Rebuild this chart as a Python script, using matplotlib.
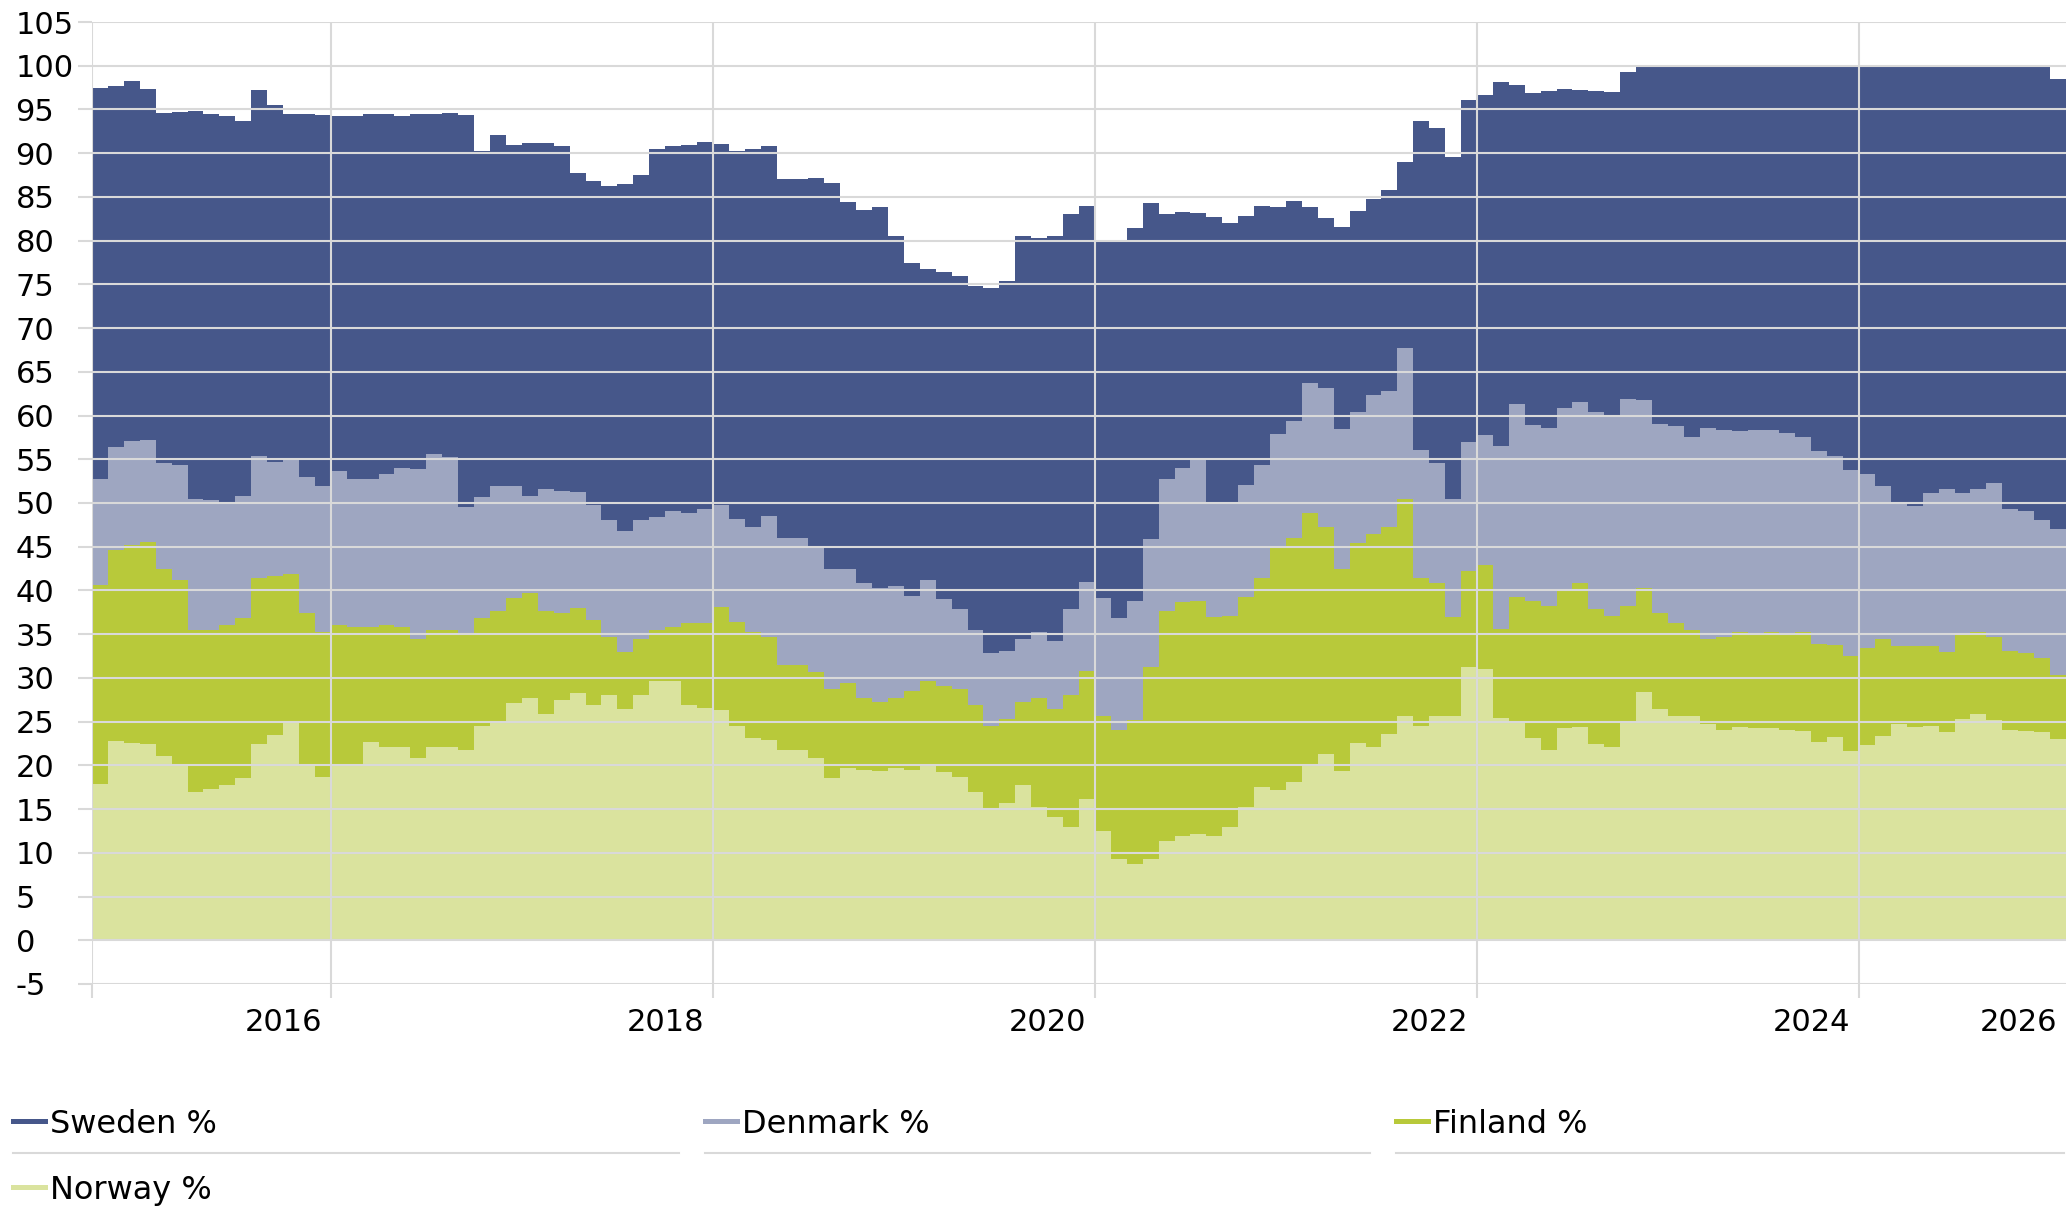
import numpy as np
import matplotlib.pyplot as plt
from matplotlib.lines import Line2D

plt.rcParams['font.family'] = ['DejaVu Sans']
plt.rcParams['axes.unicode_minus'] = False

# monthly shares, Jan 2015 .. Apr 2025
sweden = [97.4, 97.7, 98.3, 97.3, 94.6, 94.7, 94.8, 94.5, 94.2, 93.7, 97.2, 95.5,
          94.5, 94.5, 94.4, 94.3, 94.2, 94.5, 94.5, 94.2, 94.5, 94.5, 94.6, 94.4,
          90.3, 92.1, 90.9, 91.2, 91.2, 90.8, 87.7, 86.8, 86.3, 86.5, 87.5, 90.5,
          90.8, 90.9, 91.3, 91.0, 90.2, 90.5, 90.8, 87.1, 87.1, 87.2, 86.6, 84.4,
          83.5, 83.8, 80.5, 77.4, 76.8, 76.4, 75.9, 74.8, 74.6, 75.4, 80.5, 80.3,
          80.5, 83.0, 84.0, 79.9, 80.1, 81.4, 84.3, 83.0, 83.3, 83.2, 82.7, 82.0,
          82.8, 84.0, 83.8, 84.5, 83.8, 82.6, 81.6, 83.4, 84.8, 85.8, 89.0, 93.7,
          92.9, 89.6, 96.1, 96.7, 98.1, 97.8, 96.9, 97.1, 97.3, 97.2, 97.1, 97.0,
          99.3, 100, 100, 100, 100, 100, 100, 100, 100, 100, 100, 100,
          100, 100, 100, 100, 100, 100, 100, 100, 100, 100, 100, 100,
          100, 100, 100, 98.5]
denmark = [52.7, 56.4, 57.1, 57.2, 54.6, 54.3, 50.5, 50.4, 50.1, 50.8, 55.4, 54.7,
           54.9, 53.0, 52.0, 53.7, 52.7, 52.7, 53.3, 54.0, 53.9, 55.6, 55.3, 49.5,
           50.7, 52.0, 52.0, 50.8, 51.6, 51.4, 51.3, 49.8, 48.0, 46.8, 48.0, 48.4,
           49.1, 48.9, 49.3, 49.8, 48.2, 47.2, 48.5, 46.0, 46.0, 44.9, 42.5, 42.4,
           40.9, 40.3, 40.5, 39.4, 41.2, 39.0, 37.9, 35.5, 32.8, 33.1, 34.5, 35.3,
           34.2, 37.9, 41.0, 39.1, 36.8, 38.8, 45.9, 52.8, 54.0, 55.0, 50.1, 50.1,
           52.1, 54.3, 57.9, 59.4, 63.7, 63.2, 58.5, 60.4, 62.3, 62.8, 67.7, 56.1,
           54.6, 50.5, 57.0, 57.8, 56.5, 61.3, 58.9, 58.6, 60.9, 61.5, 60.4, 59.8,
           61.9, 61.8, 59.0, 58.8, 57.6, 58.6, 58.4, 58.2, 58.3, 58.3, 58.0, 57.5,
           55.9, 55.4, 53.8, 53.3, 52.0, 49.9, 49.7, 51.2, 51.6, 51.1, 51.6, 52.3,
           49.3, 49.1, 48.1, 47.0]
finland = [40.6, 44.6, 45.2, 45.5, 42.4, 41.2, 35.5, 35.5, 36.1, 36.8, 41.4, 41.6,
           41.9, 37.4, 35.3, 36.1, 35.8, 35.8, 36.0, 35.8, 34.5, 35.5, 35.5, 35.0,
           36.9, 37.7, 39.1, 39.7, 37.7, 37.4, 38.0, 36.6, 34.7, 33.0, 34.5, 35.5,
           35.8, 36.3, 36.3, 38.1, 36.4, 35.3, 34.7, 31.5, 31.5, 30.7, 28.7, 29.4,
           27.7, 27.2, 27.7, 28.5, 29.7, 29.1, 28.7, 26.9, 24.5, 25.3, 27.3, 27.7,
           26.5, 28.0, 30.8, 25.6, 24.0, 25.2, 31.3, 37.7, 38.7, 38.8, 37.0, 37.1,
           39.3, 41.4, 44.8, 46.0, 48.9, 47.2, 42.4, 45.4, 46.4, 47.3, 50.5, 41.4,
           40.9, 37.0, 42.2, 42.9, 35.6, 39.3, 38.8, 38.2, 40.2, 40.8, 37.9, 37.1,
           38.2, 40.3, 37.4, 36.3, 35.5, 34.5, 34.7, 35.3, 35.1, 35.2, 35.0, 35.2,
           33.9, 33.8, 32.5, 33.4, 34.5, 33.6, 33.6, 33.6, 33.0, 35.1, 35.3, 34.7,
           33.1, 32.9, 32.3, 30.3]
norway = [17.9, 22.8, 22.5, 22.4, 21.1, 20.0, 17.0, 17.3, 17.7, 18.5, 22.4, 23.5,
          25.1, 20.2, 18.7, 20.0, 20.2, 22.7, 22.1, 22.1, 20.8, 22.1, 22.1, 21.8,
          24.5, 24.8, 27.1, 27.7, 25.9, 27.5, 28.3, 26.9, 28.0, 26.4, 28.0, 29.6,
          29.7, 26.9, 26.6, 26.3, 24.5, 23.1, 22.9, 21.8, 21.8, 20.8, 18.6, 19.7,
          19.5, 19.3, 19.7, 19.5, 20.0, 19.2, 18.7, 16.9, 15.0, 15.7, 17.7, 15.2,
          14.1, 12.9, 16.2, 12.5, 9.3, 8.7, 9.3, 11.4, 11.9, 12.2, 11.9, 13.0,
          15.2, 17.5, 17.2, 18.1, 20.2, 21.3, 19.3, 22.5, 22.1, 23.6, 25.7, 24.5,
          25.7, 25.7, 31.3, 31.0, 25.4, 24.8, 23.1, 21.8, 24.3, 24.4, 22.4, 22.1,
          25.1, 28.4, 26.5, 25.6, 25.7, 24.7, 24.0, 24.4, 24.3, 24.3, 24.0, 23.9,
          22.7, 23.3, 21.6, 22.3, 23.4, 24.7, 24.4, 24.5, 23.8, 25.3, 25.9, 25.2,
          24.0, 23.9, 23.8, 23.0]

names = ['Sweden %', 'Denmark %', 'Finland %', 'Norway %']
colors = ['#46578a', '#9ea6c1', '#b8c93a', '#dae39e']
year_labels = ['2016', '2018', '2020', '2022', '2024', '2026']

W, H = 2066, 1206
grid_col = '#d9d9d9'

fig = plt.figure(figsize=(W / 100, H / 100), dpi=100)
ax = fig.add_axes([92 / W, 1 - 984 / H, 1 - 92 / W, (984 - 22) / H])

n = len(sweden)
x = np.arange(n + 1)
for vals, col in zip([sweden, denmark, finland, norway], colors):
    y = np.append(vals, vals[-1])
    ax.fill_between(x, 0, y, step='post', color=col, lw=0, zorder=1)

ax.set_xlim(0, n)
ax.set_ylim(-5, 105)
ax.set_yticks(np.arange(-5, 106, 5))
ax.set_xticks([0, 15, 39, 63, 87, 111])
ax.set_xticks([12, 36, 60, 84, 108, 121], minor=True)
ax.set_xticklabels([], minor=False)
ax.set_xticklabels(year_labels, minor=True)

ax.set_axisbelow(False)
ax.grid(True, which='major', color=grid_col, lw=1.5)
ax.tick_params(axis='x', which='major', length=10, width=1.5, color=grid_col)
ax.tick_params(axis='x', which='minor', length=0, pad=17, labelsize=22)
ax.tick_params(axis='y', length=10, width=1.5, color=grid_col, pad=45, labelsize=22)
for t in ax.get_yticklabels():
    t.set_ha('left')
for s in ax.spines.values():
    s.set_visible(False)

# legend, drawn in pixel coordinates
lax = fig.add_axes([0, 0, 1, 1])
lax.set_xlim(0, W)
lax.set_ylim(H, 0)
lax.axis('off')
entries = [(13, 1121, 1133), (705, 1121, 1133), (1396, 1121, 1133), (13, 1187, 1199)]
for (x0, ym, yb), name, col in zip(entries, names, colors):
    lax.add_line(Line2D([x0, x0 + 32], [ym, ym], color=col, lw=3.6))
    lax.text(x0 + 37, yb, name, fontsize=23, va='baseline', ha='left')
for x0, x1 in [(13, 679), (705, 1370), (1396, 2064)]:
    lax.add_line(Line2D([x0, x1], [1153, 1153], color=grid_col, lw=1.5))

fig.savefig('out.png', dpi=100)
